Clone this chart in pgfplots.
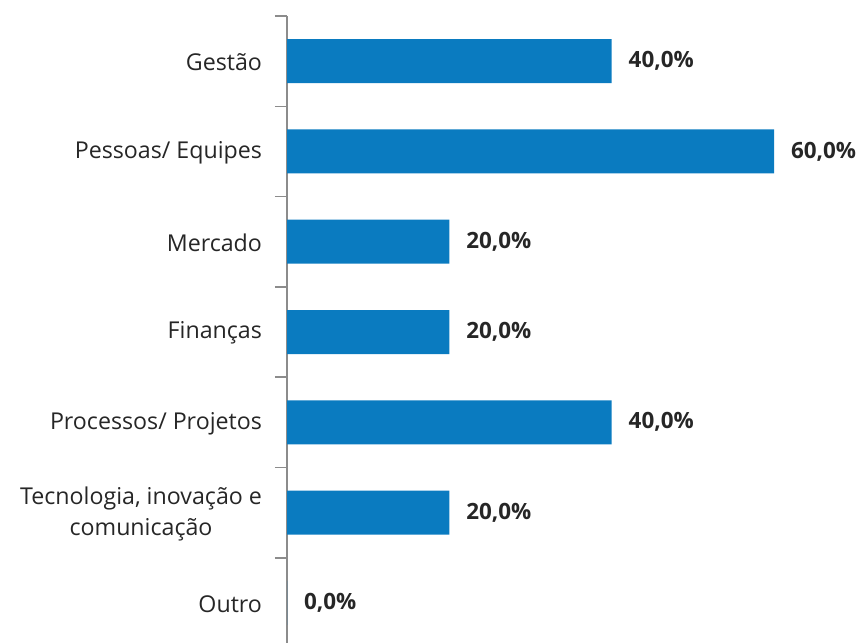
\documentclass[border=0pt]{standalone}
\usepackage{pgfplots}
\pgfplotsset{compat=1.18}
\usepackage{fontspec}
\setmainfont{Open Sans}
\definecolor{barblue}{HTML}{0A7BC0}
\definecolor{axgray}{HTML}{8C8C8C}
\definecolor{txt}{HTML}{262626}
\begin{document}
\begin{tikzpicture}
\useasboundingbox (0,0) rectangle (431bp,321.5bp);
\begin{axis}[
  at={(143.5bp,-2.5bp)}, anchor=south west,
  width=263.8bp, height=316bp, scale only axis,
  xbar, bar width=22bp,
  xmin=0, xmax=65,
  ymin=-0.5, ymax=6.5, y dir=reverse,
  axis x line=none,
  axis y line*=left,
  y axis line style={draw=axgray, line width=0.8pt},
  ytick={0,...,6},
  yticklabels={Gestão, Pessoas/ Equipes, Mercado, Finanças, Processos/ Projetos, {Tecnologia, inovação e\\comunicação}, Outro},
  major tick length=0pt,
  minor ytick={-0.5,0.5,...,6.5},
  minor tick length=6bp,
  every minor tick/.style={draw=axgray, line width=0.8pt},
  tick align=outside,
  yticklabel style={font=\fontsize{11.6bp}{15.5bp}\selectfont, text=txt, align=center, xshift=-9bp, yshift=-0.5bp},
  /pgf/number format/assume math mode=true,
  nodes near coords={\pgfmathprintnumber[fixed,fixed zerofill,precision=1,use comma,assume math mode=true]{\pgfplotspointmeta}\%},
  nodes near coords align={horizontal},
  every node near coord/.style={font=\fontsize{11.2bp}{14bp}\selectfont\bfseries, text=txt, xshift=5bp},
  clip=false,
]
\addplot[fill=barblue, draw=none] coordinates {(40,0) (60,1) (20,2) (20,3) (40,4) (20,5) (0,6)};
\end{axis}
\end{tikzpicture}
\end{document}
